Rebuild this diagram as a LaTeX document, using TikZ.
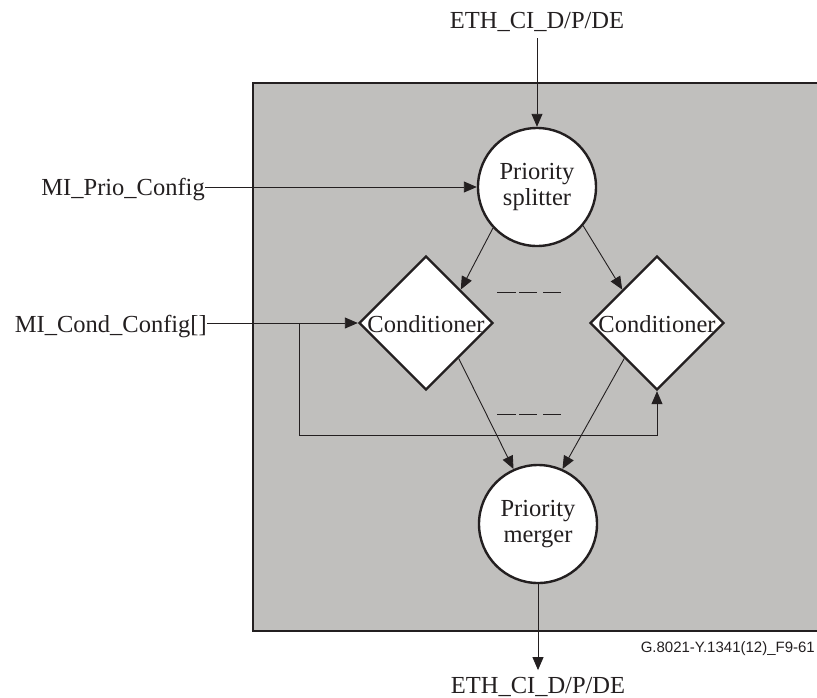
\documentclass[tikz,border=0pt]{standalone}
\usepackage{fontspec}
\setmainfont{Liberation Serif}
\newfontfamily\sansf{Liberation Sans}
\usetikzlibrary{arrows.meta,shapes.geometric,calc}
\definecolor{boxgray}{RGB}{192,191,189}
\definecolor{ink}{RGB}{35,31,32}
\begin{document}
\begin{tikzpicture}[x=1pt,y=-1pt,
  every node/.style={font=\fontsize{24.5}{26}\selectfont, text=ink},
  arr/.style={draw=ink, line width=0.9pt, -{Triangle[length=13pt,width=11pt]}},
  circ/.style={circle, draw=ink, line width=2.4pt, fill=white, minimum size=118pt, inner sep=0pt, align=center},
  dia/.style={diamond, draw=ink, line width=2.4pt, fill=white, minimum width=134pt, minimum height=134pt, inner sep=0pt},
  lbl/.style={inner sep=0pt},
  dsh/.style={draw=ink, line width=0.9pt}]
\useasboundingbox (0,0) rectangle (817,697);
\filldraw[fill=boxgray, draw=ink, line width=2.6pt] (253,83) rectangle (840,631);

\node[circ] (split) at (537,187) {Priority\\splitter};
\node[dia] (condL) at (426,323) {};
\node[dia] (condR) at (657,323) {};
\node[circ] (merge) at (538,524) {Priority\\merger};
\node[lbl, anchor=base] (condLt) at ([yshift=-9pt]condL.center) {Conditioner};
\node[lbl, anchor=base] (condRt) at ([yshift=-9pt]condR.center) {Conditioner};

\node[lbl, anchor=base] (top) at (537,28) {ETH\_CI\_D/P/DE};
\node[lbl, anchor=base] (bot) at (538,693) {ETH\_CI\_D/P/DE};
\node[lbl, anchor=base east] (prio) at (205,195) {MI\_Prio\_Config};
\node[lbl, anchor=base east] (cond) at (207,332) {MI\_Cond\_Config[]};
\node[lbl, anchor=base east, font=\sansf\fontsize{15}{17}\selectfont] (fig) at (815,652) {G.8021-Y.1341(12)\_F9-61};

\draw[dsh] (497,292) -- (516,292) (519,292) -- (537,292) (543,292) -- (561,292);
\draw[dsh] (497,414) -- (516,414) (519,414) -- (537,414) (543,414) -- (561,414);

\draw[arr] ([yshift=-7pt]top.south) -- (split.north);
\draw[arr] (prio.east |- split.west) -- (split.west);
\draw[arr] (cond.east |- condL.west) -- (condL.west);
\coordinate (br) at (299,323);
\coordinate (brlow) at (299,435);
\draw[arr] (br) -- (brlow) -| (condR.south);
\draw[arr] (split.223) -- ($(condL.north)!0.51!(condL.east)$);
\draw[arr] (split.320) -- ($(condR.north)!0.51!(condR.west)$);
\draw[arr] ($(condL.east)!0.52!(condL.south)$) -- (merge.114);
\draw[arr] ($(condR.west)!0.52!(condR.south)$) -- (merge.66);
\draw[arr] (merge.south) -- ([yshift=6.5pt]bot.north);
\end{tikzpicture}
\end{document}
